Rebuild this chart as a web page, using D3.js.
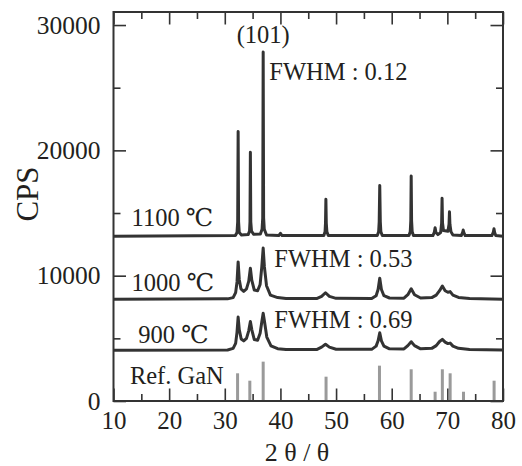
<!DOCTYPE html>
<html>
<head>
<meta charset="utf-8">
<script src="https://cdn.jsdelivr.net/npm/d3@7"></script>
<style>
  html, body { margin: 0; padding: 0; background: #fff; }
</style>
</head>
<body>
<svg id="chart" width="522" height="466"></svg>
<script>
// XRD patterns of GaN powders annealed at different temperatures.
// Each pattern is a list of [2θ, CPS] points; patterns are stacked with offsets already included.
const pattern1100 = [
  [10, 13150], [31.9, 13200], [32.2, 13450], [32.32, 14300], [32.4, 21500], [32.48, 14300], [32.6, 13450], [33.0, 13250],
  [34.2, 13280], [34.45, 13550], [34.53, 14300], [34.6, 19850], [34.67, 14300], [34.8, 13550], [35.2, 13300],
  [36.4, 13320], [36.7, 13700], [36.82, 14600], [36.9, 27850], [36.98, 14600], [37.1, 13700], [37.5, 13250],
  [39.7, 13200], [40.0, 13380], [40.3, 13200],
  [47.8, 13200], [48.02, 13500], [48.1, 14200], [48.17, 16100], [48.24, 14200], [48.35, 13500], [48.6, 13200],
  [57.4, 13200], [57.65, 13500], [57.75, 14300], [57.85, 17200], [57.95, 14300], [58.05, 13500], [58.3, 13200],
  [63.1, 13200], [63.33, 13500], [63.43, 14400], [63.5, 17950], [63.57, 14400], [63.68, 13500], [63.9, 13200],
  [67.4, 13200], [67.65, 13450], [67.8, 13830], [67.95, 13450], [68.3, 13280],
  [68.8, 13450], [68.97, 14200], [69.05, 16170], [69.13, 14200], [69.3, 13600],
  [70.1, 13550], [70.3, 14100], [70.38, 15100], [70.46, 14100], [70.65, 13500], [71.0, 13250],
  [72.5, 13200], [72.75, 13450], [72.85, 13640], [72.95, 13450], [73.2, 13200],
  [78.0, 13200], [78.25, 13450], [78.38, 13750], [78.5, 13450], [78.7, 13200], [80, 13150]
];
const pattern1000 = [
  [10, 8120], [30.5, 8150], [31.5, 8250], [31.95, 8650], [32.2, 9500], [32.4, 11100], [32.6, 9700], [32.9, 8950],
  [33.4, 8750], [33.9, 8950], [34.3, 9550], [34.6, 10600], [34.85, 9650], [35.3, 8850],
  [35.9, 8800], [36.35, 9300], [36.65, 10700], [36.9, 12200], [37.12, 10700], [37.5, 9200], [38.2, 8450],
  [39.5, 8250], [41, 8180],
  [46.5, 8170], [47.4, 8350], [48.1, 8640], [48.8, 8350], [50, 8190],
  [56.4, 8170], [57.2, 8400], [57.55, 8900], [57.85, 9800], [58.15, 8900], [58.6, 8400], [59.6, 8220],
  [62.2, 8200], [62.9, 8480], [63.5, 8950], [64.1, 8480], [65.2, 8220],
  [67.2, 8250], [68.0, 8450], [68.6, 8800], [69.1, 9180], [69.6, 8800], [70.1, 8680], [70.5, 8730], [71.0, 8450],
  [72.0, 8260], [74.0, 8170], [80, 8120]
];
const pattern900 = [
  [10, 4040], [30.5, 4070], [31.5, 4200], [31.95, 4600], [32.2, 5500], [32.4, 6700], [32.6, 5700], [32.95, 4950],
  [33.4, 4800], [33.9, 5000], [34.3, 5600], [34.6, 6350], [34.85, 5700], [35.3, 4900],
  [35.9, 4850], [36.35, 5400], [36.65, 6300], [36.9, 7000], [37.15, 6300], [37.55, 5100], [38.3, 4400],
  [39.5, 4170], [41, 4110],
  [46.5, 4100], [47.4, 4300], [48.1, 4530], [48.8, 4300], [50, 4130],
  [56.4, 4120], [57.2, 4380], [57.55, 4800], [57.85, 5450], [58.15, 4800], [58.6, 4380], [59.6, 4160],
  [62.2, 4150], [62.9, 4420], [63.5, 4730], [64.1, 4420], [65.2, 4160],
  [67.2, 4200], [68.0, 4420], [68.6, 4750], [69.1, 4920], [69.6, 4700], [70.1, 4580], [70.5, 4620], [71.0, 4380],
  [72.0, 4200], [74.0, 4110], [80, 4070]
];
// Reference GaN stick pattern [2θ, intensity on the CPS axis]
const refGaN = [
  [32.3, 2210], [34.5, 1620], [36.9, 3140], [48.2, 1940], [57.8, 2820], [63.5, 2530],
  [67.8, 740], [69.1, 2530], [70.5, 2210], [72.9, 740], [78.4, 1620]
];
const xTicksMajor = [10, 20, 30, 40, 50, 60, 70, 80];
const xTicksMinor = [15, 25, 35, 45, 55, 65, 75];
const yTicksMajor = [0, 10000, 20000, 30000];
const yTicksMinor = [5000, 15000, 25000];

const serif = "'Liberation Serif', 'Times New Roman', Tinos, 'DejaVu Serif', serif";
const textInk = "#231f20";

const svg = d3.select("#chart");
const plotLeft = 113.5, plotRight = 503, plotTop = 12, plotBottom = 401;

const x = d3.scaleLinear().domain([10, 80]).range([plotLeft, plotRight]);
const y = d3.scaleLinear().domain([0, 31040]).range([plotBottom, plotTop]);

const ink = "#333";
const majorLen = 12.5, minorLen = 7;

// axes: ticks point inward on all four sides
function styleAxis(g) {
  g.attr("font-family", serif);
  g.select(".domain").remove();
  g.selectAll(".tick line").attr("stroke", ink).attr("stroke-width", 1.6);
  g.selectAll(".tick text").attr("fill", textInk).attr("font-family", serif);
}

svg.append("g").attr("transform", `translate(0,${plotBottom})`)
  .call(d3.axisBottom(x).tickValues(xTicksMajor).tickSize(-majorLen).tickPadding(10.5).tickFormat(d3.format("d")))
  .call(styleAxis).call(g => g.attr("font-size", 25));
svg.append("g").attr("transform", `translate(0,${plotBottom})`)
  .call(d3.axisBottom(x).tickValues(xTicksMinor).tickSize(-minorLen).tickFormat(""))
  .call(styleAxis);
svg.append("g").attr("transform", `translate(0,${plotTop})`)
  .call(d3.axisTop(x).tickValues(xTicksMajor).tickSize(-majorLen).tickFormat(""))
  .call(styleAxis);
svg.append("g").attr("transform", `translate(0,${plotTop})`)
  .call(d3.axisTop(x).tickValues(xTicksMinor).tickSize(-minorLen).tickFormat(""))
  .call(styleAxis);

svg.append("g").attr("transform", `translate(${plotLeft},0)`)
  .call(d3.axisLeft(y).tickValues(yTicksMajor).tickSize(-majorLen).tickPadding(13).tickFormat(d3.format("d")))
  .call(styleAxis).call(g => g.attr("font-size", 25.5));
svg.append("g").attr("transform", `translate(${plotLeft},0)`)
  .call(d3.axisLeft(y).tickValues(yTicksMinor).tickSize(-minorLen).tickFormat(""))
  .call(styleAxis);
svg.append("g").attr("transform", `translate(${plotRight},0)`)
  .call(d3.axisRight(y).tickValues(yTicksMajor).tickSize(-majorLen).tickFormat(""))
  .call(styleAxis);
svg.append("g").attr("transform", `translate(${plotRight},0)`)
  .call(d3.axisRight(y).tickValues(yTicksMinor).tickSize(-minorLen).tickFormat(""))
  .call(styleAxis);

// reference sticks
svg.append("g").selectAll("rect").data(refGaN).join("rect")
  .attr("x", d => x(d[0]) - 1.5)
  .attr("width", 3)
  .attr("y", d => y(d[1]))
  .attr("height", d => y(0) - y(d[1]))
  .attr("fill", "#9a9a9a");

// diffraction patterns
const line = d3.line().x(d => x(d[0])).y(d => y(d[1]));
svg.append("g").selectAll("path").data([pattern900, pattern1000, pattern1100]).join("path")
  .attr("d", line)
  .attr("fill", "none")
  .attr("stroke", ink)
  .attr("stroke-width", 3)
  .attr("stroke-linejoin", "round");

// plot frame
svg.append("rect")
  .attr("x", plotLeft).attr("y", plotTop)
  .attr("width", plotRight - plotLeft).attr("height", plotBottom - plotTop)
  .attr("fill", "none").attr("stroke", ink).attr("stroke-width", 2);

// annotations, placed in data coordinates
const notes = [
  { t: "(101)", a: [36.9, 28550], anchor: "middle" },
  { t: "FWHM : 0.12", a: [38.0, 25600], anchor: "start" },
  { t: "1100 ℃", a: [13.25, 14000], anchor: "start" },
  { t: "FWHM : 0.53", a: [38.9, 10670], anchor: "start" },
  { t: "1000 ℃", a: [13.25, 8800], anchor: "start" },
  { t: "FWHM : 0.69", a: [38.9, 5800], anchor: "start" },
  { t: "900 ℃", a: [14.45, 4650], anchor: "start" },
  { t: "Ref. GaN", a: [12.95, 1330], anchor: "start" }
];
svg.append("g").selectAll("text").data(notes).join("text")
  .attr("x", d => x(d.a[0]))
  .attr("y", d => y(d.a[1]))
  .attr("text-anchor", d => d.anchor)
  .attr("font-family", serif)
  .attr("font-size", 24.5)
  .attr("fill", textInk)
  .text(d => d.t);

// axis titles
svg.append("text")
  .attr("transform", `translate(38,194) rotate(-90)`)
  .attr("text-anchor", "middle")
  .attr("font-family", serif)
  .attr("font-size", 31)
  .attr("fill", textInk)
  .text("CPS");
svg.append("text")
  .attr("x", 297).attr("y", 461)
  .attr("text-anchor", "middle")
  .attr("font-family", serif)
  .attr("font-size", 26)
  .attr("fill", textInk)
  .attr("xml:space", "preserve")
  .text("2 θ / θ");
</script>
</body>
</html>
